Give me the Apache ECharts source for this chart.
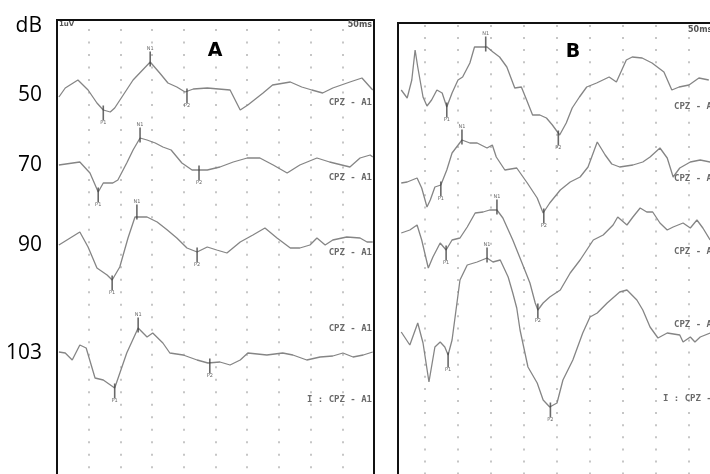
<!DOCTYPE html>
<html><head><meta charset="utf-8">
<script src="https://cdn.jsdelivr.net/npm/echarts@6/dist/echarts.min.js"></script>
<style>html,body{margin:0;padding:0;background:#fff}#c{width:710px;height:474px}</style>
</head><body><div id="c"></div>
<script>
// ---- data (time in ms, deflection in µV, up = positive) ----
const dbLevels = ['50', '70', '90', '103'];
const peakNames = ['P1', 'N1', 'P2'];

// Panel A
const tA1 = [0.3,1.3,3.3,4.9,6.3,7.3,8.4,9.1,12.0,14.7,16.2,17.5,18.9,20.2,20.5,21.5,23.7,27.3,28.9,30.1,32.5,34.0,36.8,38.6,40.2,41.9,43.5,46.2,48.1,49.8];
const vA1 = [-0.2,0.7,1.5,0.5,-0.8,-1.5,-1.7,-1.3,1.5,3.3,2.2,1.2,0.8,0.3,0.2,0.6,0.7,0.5,-1.5,-1.0,0.2,1.0,1.3,0.8,0.5,0.2,0.7,1.3,1.7,0.5];
const tA2 = [0.3,3.6,5.2,6.5,7.3,8.8,9.6,11.0,12.0,13.1,14.2,15.5,16.7,18.0,19.7,21.3,22.4,23.7,25.7,27.8,30.0,32.0,34.1,36.3,38.3,41.0,43.0,46.2,47.8,49.4,49.8];
const vA2 = [0,0.3,-0.8,-2.7,-1.8,-1.8,-1.5,0.2,1.5,2.7,2.5,2.2,1.8,1.5,0.2,-0.5,-0.5,-0.5,-0.2,0.3,0.7,0.7,0,-0.8,0,0.7,0.3,-0.2,0.7,1.0,0.8];
const tA3 = [0.3,3.6,4.9,6.3,7.9,8.7,9.9,11.2,12.3,12.6,14.2,15.8,17.4,18.9,20.5,22.1,23.7,25.2,26.8,28.9,30.9,32.8,34.7,36.8,38.3,39.9,41.0,42.3,43.5,45.7,47.8,48.9,49.8];
const vA3 = [0,1.3,-0.2,-2.3,-3.0,-3.5,-2.2,0.7,2.8,3.0,2.8,2.3,1.5,0.7,-0.3,-0.7,-0.2,-0.5,-0.8,0.3,1.0,1.7,0.7,-0.3,-0.3,0,0.7,0,0.5,0.8,0.7,0.3,0.3];
const tA4 = [0.3,1.3,2.4,3.6,4.6,6.0,7.3,9.1,11.0,12.8,14.2,15.1,16.7,17.8,19.9,22.1,23.8,25.7,27.3,28.9,30.1,33.1,35.6,37.2,39.4,41.5,43.5,45.1,46.7,48.3,49.8];
const vA4 = [0.1,0,-0.7,0.8,0.5,-2.5,-2.7,-3.5,0,2.5,1.6,2.0,1.0,0,-0.2,-0.7,-1.0,-0.9,-1.2,-0.7,0,-0.2,0,-0.2,-0.7,-0.4,-0.3,0,-0.4,-0.2,0.1];
const baseA = [39.5, 32.5, 24.5, 13.7];
const peaksA = [
  [[7.3,-1.5],[14.7,3.3],[20.5,0.2]],
  [[6.5,-2.7],[13.1,2.7],[22.4,-0.5]],
  [[8.7,-3.5],[12.6,3.0],[22.1,-0.7]],
  [[9.1,-3.5],[12.8,2.5],[24.1,-1.0]]
];

// Panel B
const tB1 = [1.4,2.3,3.0,3.5,3.9,4.7,5.3,6.0,6.8,7.6,8.3,9.1,10.0,10.7,11.8,12.5,13.3,14.4,15.3,16.3,17.4,18.6,19.6,20.4,21.3,22.4,23.4,24.3,25.4,26.4,27.3,28.4,29.5,31.0,32.9,34.0,35.5,36.4,37.9,39.4,41.2,42.4,43.5,45.0,46.5,48.0];
const vB1 = [0,-0.8,1.0,4.0,2.3,-0.7,-1.6,-1.0,0,-0.3,-1.7,-0.3,1.0,1.3,2.7,4.3,4.3,4.3,3.8,3.3,2.3,0.2,0.3,-1.0,-2.5,-2.5,-2.8,-3.5,-4.5,-3.3,-1.8,-0.7,0.3,0.7,1.3,0.8,3.0,3.3,3.2,2.7,1.8,0,0.3,0.5,1.2,1.0];
const tB2 = [1.4,2.3,3.8,4.5,5.3,5.8,6.5,7.4,8.3,9.1,10.6,11.8,12.9,14.4,15.2,15.8,17.1,18.9,20.5,22.0,22.9,23.9,25.5,27.0,28.5,29.7,31.1,32.3,33.3,34.5,36.5,38.0,39.1,40.6,41.7,42.6,43.6,45.2,46.7,48.2];
const vB2 = [0,0.1,0.5,-0.5,-2.4,-1.7,-0.4,-0.2,1.3,3.0,4.3,4.0,4.0,3.5,3.8,2.6,1.3,1.5,0,-1.5,-3.0,-2.0,-0.7,0.1,0.6,1.6,4.1,2.8,1.9,1.6,1.8,2.1,2.6,3.5,2.5,0.6,1.5,2.1,2.3,2.1];
const tB3 = [1.4,2.7,3.8,4.5,5.5,6.2,7.3,8.2,9.1,10.3,11.4,12.6,13.8,14.8,15.9,16.8,18.3,19.7,20.9,21.7,22.1,22.9,23.9,25.5,27.0,28.5,30.5,32.0,33.5,34.2,35.6,36.5,37.6,38.6,39.5,40.6,41.7,42.6,44.1,45.2,46.2,47.1,48.2];
const vB3 = [0,0.3,0.8,-0.7,-3.5,-2.4,-1.0,-1.7,-0.7,-0.5,0.6,2.0,2.1,2.3,2.3,1.5,-0.7,-3.0,-5.0,-7.0,-7.7,-7.0,-6.4,-5.7,-4.0,-2.7,-0.7,-0.2,0.8,1.6,0.8,1.6,2.5,2.1,2.1,1.0,0.3,0.6,1.0,0.5,1.3,0.5,-0.7];
const tB4 = [1.4,2.7,3.9,4.7,5.6,6.5,7.3,8.0,8.5,9.1,9.8,10.3,11.4,12.9,14.4,15.3,16.4,17.6,18.3,18.9,19.4,20.6,22.0,22.9,23.9,25.0,25.9,27.4,28.9,30.0,31.1,32.6,34.5,35.6,37.1,38.0,39.1,40.3,41.7,43.6,44.1,45.2,45.9,46.7,48.2];
const vB4 = [0.1,-1.2,1.0,-1.0,-4.9,-1.4,-0.9,-1.4,-2.2,-0.7,2.8,5.3,6.8,7.1,7.5,7.1,7.3,5.6,4.0,2.5,0.3,-3.4,-5.0,-6.7,-7.4,-7.0,-4.7,-2.7,0,1.6,2.0,3.0,4.1,4.3,3.3,2.3,0.6,-0.5,0,-0.2,-0.9,-0.4,-0.9,-0.4,0];
const baseB = [40.3, 31.0, 26.0, 16.0];
const peaksB = [
  [[8.3,-1.7],[14.2,4.3],[25.2,-4.5]],
  [[7.4,-0.3],[10.6,4.3],[23.0,-3.0]],
  [[8.2,-1.7],[15.9,2.3],[22.1,-7.5]],
  [[8.5,-2.4],[14.4,7.5],[24.0,-7.4]]
];

const chanA = ['CPZ - A1', 'CPZ - A1', 'CPZ - A1', 'CPZ - A1', 'I : CPZ - A1'];
const chanB = ['CPZ - A1', 'CPZ - A1', 'CPZ - A1', 'CPZ - A1', 'I : CPZ - A1'];

// ---- build ----
const chart = echarts.init(document.getElementById('c'));
const traceStyle = { color: '#858585', width: 1.3 };
const mk = (t, v, base) => t.map((x, i) => [x, +(base + v[i]).toFixed(2)]);
const series = [];
const tracesA = [[tA1, vA1], [tA2, vA2], [tA3, vA3], [tA4, vA4]];
const tracesB = [[tB1, vB1], [tB2, vB2], [tB3, vB3], [tB4, vB4]];
tracesA.forEach((tr, k) => series.push({ type: 'line', xAxisIndex: 0, yAxisIndex: 0, data: mk(tr[0], tr[1], baseA[k]), symbol: 'none', lineStyle: traceStyle, z: 3 }));
tracesB.forEach((tr, k) => series.push({ type: 'line', xAxisIndex: 1, yAxisIndex: 1, data: mk(tr[0], tr[1], baseB[k]), symbol: 'none', lineStyle: traceStyle, z: 3 }));

function markers(peaks, bases) {
  const out = [];
  peaks.forEach((set, k) => set.forEach((p, j) => {
    const up = j === 1;
    out.push({ value: [p[0], bases[k] + p[1]], name: peakNames[j],
      symbolOffset: up ? [0, -3] : [0, 3],
      label: { position: up ? 'top' : 'bottom' } });
  }));
  return out;
}
const markerSeries = (xi, data) => ({
  type: 'scatter', xAxisIndex: xi, yAxisIndex: xi, data, symbol: 'rect', symbolSize: [1.6, 15],
  itemStyle: { color: '#444' }, z: 4,
  label: { show: true, formatter: '{b}', fontSize: 5, color: '#444', distance: 0, fontFamily: 'DejaVu Sans' }
});
series.push(markerSeries(0, markers(peaksA, baseA)));
series.push(markerSeries(1, markers(peaksB, baseB)));

const dotLine = (dash, off) => ({ show: true, showMinLine: false, showMaxLine: false,
  lineStyle: { color: '#c6c6c6', width: 2, type: dash, dashOffset: off } });
const hiddenY = (gi) => ({ type: 'value', gridIndex: gi, min: 0, max: 47, show: false });

const texts = [];
const txt = (x, y, text, font, fill, align, vAlign) => texts.push({ type: 'text', x, y, z: 10,
  style: { text, font, fill, align: align || 'left', verticalAlign: vAlign || 'middle' } });
txt(42, 26, 'dB', '21px "Open Sans"', '#000', 'right');
txt(215, 51, 'A', 'bold 19px "DejaVu Sans"', '#000', 'center');
txt(573, 52, 'B', 'bold 19px "DejaVu Sans"', '#000', 'center');
txt(59, 24, '1uV', 'bold 7px "DejaVu Sans"', '#555');
txt(372, 25, '50ms', 'bold 8px "DejaVu Sans"', '#555', 'right');
txt(688, 30, '50ms', 'bold 8px "DejaVu Sans"', '#555');
const chanYA = [103, 178, 253, 329, 400];
const chanYB = [107, 179, 252, 325, 399];
chanA.forEach((s, i) => txt(372, chanYA[i], s, 'bold 9px "DejaVu Sans Mono"', '#6a6a6a', 'right'));
chanB.forEach((s, i) => txt(i === 4 ? 663 : 674, chanYB[i], s, 'bold 9px "DejaVu Sans Mono"', '#6a6a6a'));

chart.setOption({
  animation: false,
  backgroundColor: '#fff',
  grid: [
    { left: 57, top: 20, width: 317, height: 470, outerBoundsMode: 'none', show: true, borderColor: '#111', borderWidth: 2, backgroundColor: 'transparent' },
    { left: 392, top: 23, width: 330, height: 470, outerBoundsMode: 'none', show: false },
    { left: 398, top: 23, width: 340, height: 470, outerBoundsMode: 'none', show: true, borderColor: '#111', borderWidth: 2, backgroundColor: 'transparent' }
  ],
  xAxis: [
    { type: 'value', gridIndex: 0, min: 0, max: 50, interval: 5, axisLine: { show: false }, axisTick: { show: false }, axisLabel: { show: false }, splitLine: dotLine([2, 10.49], 3.49) },
    { type: 'value', gridIndex: 1, min: 0, max: 50, interval: 5, axisLine: { show: false }, axisTick: { show: false }, axisLabel: { show: false }, splitLine: dotLine([2, 10.1], 10.2) },
    { type: 'value', gridIndex: 2, min: 0, max: 50, show: false }
  ],
  yAxis: [
    { type: 'value', gridIndex: 0, min: 0, max: 47, axisLine: { show: false }, axisTick: { show: false }, splitLine: { show: false },
      axisLabel: { show: true, customValues: baseA, margin: 15, fontSize: 21, color: '#000', fontFamily: 'Open Sans',
        formatter: (v) => { const i = baseA.indexOf(v); return i >= 0 ? dbLevels[i] : ''; } } },
    hiddenY(1),
    hiddenY(2)
  ],
  graphic: texts,
  series
});
</script></body></html>
